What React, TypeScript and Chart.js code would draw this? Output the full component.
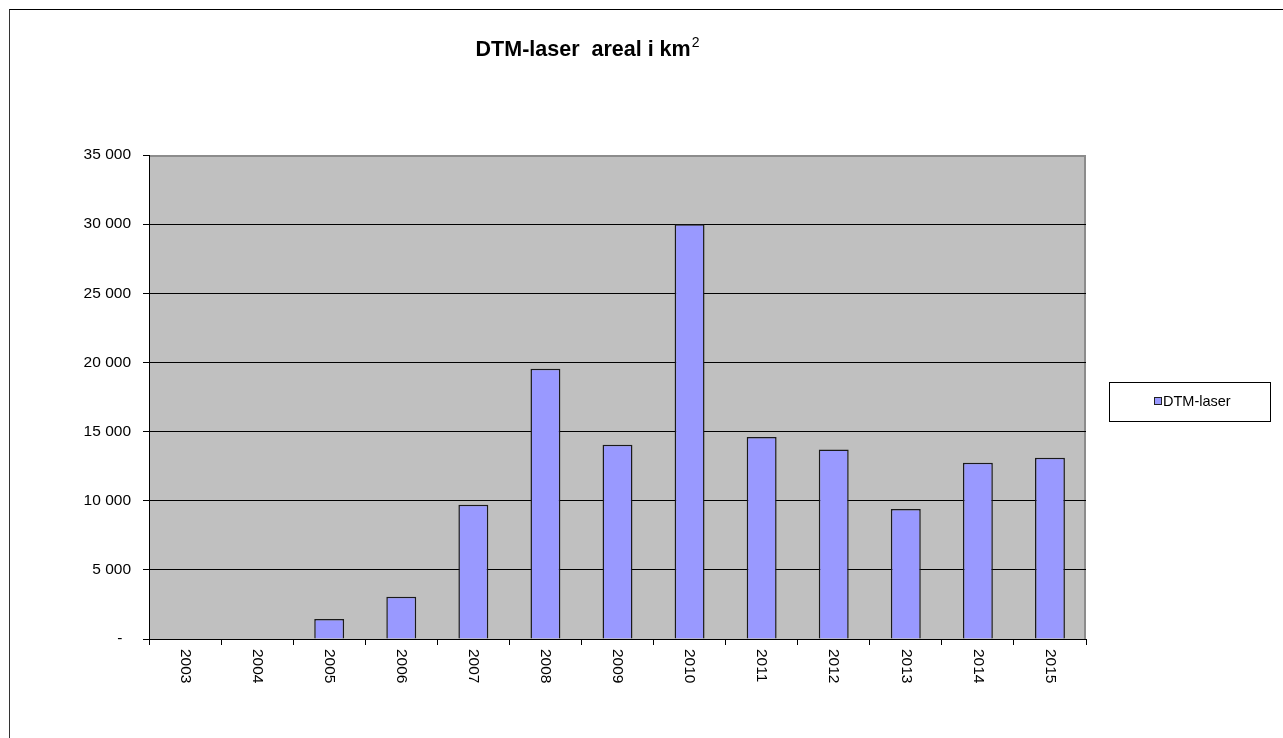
import React, { useEffect, useRef } from "react";
import { Chart, registerables } from "chart.js";

Chart.register(...registerables);

const years = ["2003", "2004", "2005", "2006", "2007", "2008", "2009", "2010", "2011", "2012", "2013", "2014", "2015"];
const areaKm2 = [0, 0, 1450, 3050, 9700, 19550, 14050, 30000, 14600, 13700, 9400, 12750, 13100];
const seriesLabel = "DTM-laser";
const titleMain = "DTM-laser  areal i km";
const titleSup = "2";
const yMin = 0;
const yMax = 35000;
const yStep = 5000;

const FONT = "'Liberation Sans', Arial, sans-serif";

function fmt(v: number): string {
  if (v === 0) return "-  ";
  return String(v).replace(/\B(?=(\d{3})+(?!\d))/g, " ");
}

const plotBgPlugin = {
  id: "plotBg",
  beforeDraw(chart: any) {
    const { ctx, chartArea } = chart;
    const { left, top, right, bottom } = chartArea;
    ctx.save();
    ctx.fillStyle = "#C0C0C0";
    ctx.fillRect(left, top, right - left, bottom - top);
    ctx.strokeStyle = "#8c8c8c";
    ctx.lineWidth = 2;
    ctx.beginPath();
    ctx.moveTo(left, top + 1);
    ctx.lineTo(right - 1, top + 1);
    ctx.lineTo(right - 1, bottom);
    ctx.stroke();
    ctx.restore();
  },
};

const titlePlugin = {
  id: "supTitle",
  afterDraw(chart: any) {
    const { ctx } = chart;
    ctx.save();
    ctx.fillStyle = "#000";
    ctx.textBaseline = "alphabetic";
    ctx.textAlign = "left";
    ctx.font = `bold 21.5px ${FONT}`;
    const w1 = ctx.measureText(titleMain).width;
    ctx.font = `14px ${FONT}`;
    const w2 = ctx.measureText(titleSup).width;
    const cx = 587;
    const x0 = cx - (w1 + w2) / 2;
    ctx.font = `bold 21.5px ${FONT}`;
    ctx.fillText(titleMain, x0, 56);
    ctx.font = `14px ${FONT}`;
    ctx.fillText(titleSup, x0 + w1 + 1, 47);
    ctx.restore();
  },
};

const xLabelPlugin = {
  id: "xLabels",
  afterDraw(chart: any) {
    const { ctx } = chart;
    const xs = chart.scales.x;
    const labels = chart.data.labels as string[];
    ctx.save();
    ctx.fillStyle = "#000";
    ctx.font = `15.5px ${FONT}`;
    ctx.textAlign = "left";
    ctx.textBaseline = "middle";
    labels.forEach((lab, i) => {
      const x = xs.getPixelForValue(i);
      ctx.save();
      ctx.translate(x, xs.top + 10);
      ctx.rotate(Math.PI / 2);
      ctx.fillText(lab, 0, 0);
      ctx.restore();
    });
    ctx.restore();
  },
};

const legendPlugin = {
  id: "boxLegend",
  afterDraw(chart: any) {
    const { ctx } = chart;
    const ds = chart.data.datasets[0];
    ctx.save();
    ctx.fillStyle = "#fff";
    ctx.fillRect(1109, 382, 161, 39);
    ctx.strokeStyle = "#000";
    ctx.lineWidth = 1;
    ctx.strokeRect(1109.5, 382.5, 161, 39);
    ctx.fillStyle = ds.backgroundColor;
    ctx.fillRect(1154, 397, 8, 8);
    ctx.strokeStyle = "#222";
    ctx.strokeRect(1154.5, 397.5, 7, 7);
    ctx.fillStyle = "#000";
    ctx.font = `14.5px ${FONT}`;
    ctx.textAlign = "left";
    ctx.textBaseline = "middle";
    ctx.fillText(ds.label, 1163, 402);
    ctx.restore();
  },
};

export default function App() {
  const ref = useRef<HTMLCanvasElement>(null);

  useEffect(() => {
    if (!ref.current) return;
    const chart = new Chart(ref.current, {
      type: "bar",
      data: {
        labels: years,
        datasets: [
          {
            label: seriesLabel,
            data: areaKm2,
            backgroundColor: "#9999FF",
            borderColor: "#1a1a1a",
            borderWidth: 1.5,
            barPercentage: 0.415,
            categoryPercentage: 1,
          },
        ],
      },
      plugins: [plotBgPlugin, titlePlugin, xLabelPlugin, legendPlugin],
      options: {
        responsive: false,
        animation: false,
        devicePixelRatio: 1,
        layout: { padding: { left: 0, top: 155, right: 197, bottom: 0 } },
        plugins: {
          legend: { display: false },
          title: { display: false },
          tooltip: { enabled: false },
        },
        scales: {
          x: {
            offset: true,
            grid: {
              offset: true,
              drawOnChartArea: false,
              drawTicks: true,
              tickLength: 6,
              color: "#000",
              tickColor: "#000",
            },
            border: { display: true, color: "#000", width: 1 },
            ticks: { display: false },
            afterFit(scale: any) {
              scale.height = 99;
            },
          },
          y: {
            min: yMin,
            max: yMax,
            ticks: {
              stepSize: yStep,
              padding: 12,
              color: "#000",
              font: { family: FONT, size: 15.5 },
              callback: (v: any) => fmt(Number(v)),
            },
            grid: {
              drawTicks: true,
              tickLength: 6,
              color: (c: any) => (c.tick && c.tick.value === yMax ? "rgba(0,0,0,0)" : "#000"),
              tickColor: "#000",
              lineWidth: 1,
            },
            border: { display: true, color: "#000", width: 1 },
            afterFit(scale: any) {
              scale.width = 149;
            },
          },
        },
      },
    });
    return () => chart.destroy();
  }, []);

  return (
    <div style={{ position: "fixed", left: 0, top: 0, width: 1283, height: 738, overflow: "hidden", background: "#fff" }}>
      <div
        style={{
          position: "absolute",
          left: 9,
          top: 9,
          width: 1400,
          height: 900,
          borderTop: "1px solid #000",
          borderLeft: "1px solid #333",
        }}
      />
      <canvas ref={ref} width={1283} height={738} style={{ position: "absolute", left: 0, top: 0, display: "block" }} />
    </div>
  );
}
